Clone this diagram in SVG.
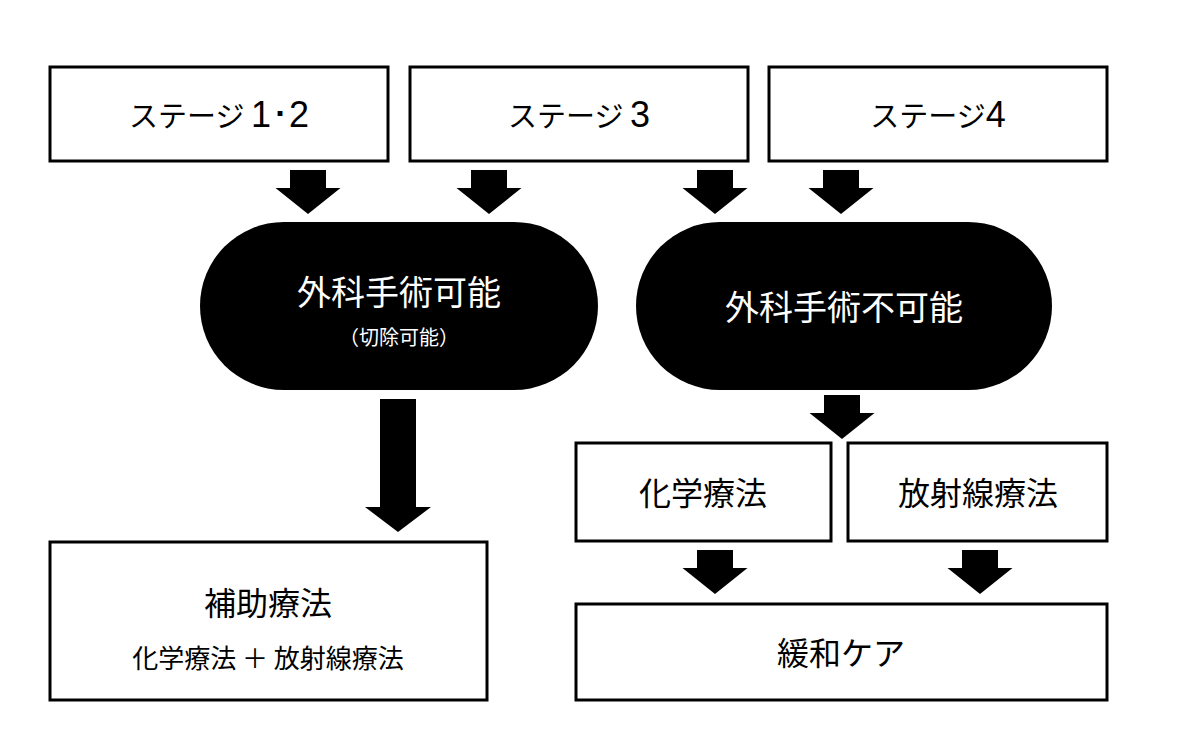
<svg xmlns="http://www.w3.org/2000/svg" width="1200" height="751" viewBox="0 0 1200 751">
<style>
.b{fill:#fff;stroke:#000;stroke-width:3}
.t{font-family:"Noto Sans CJK JP","Noto Sans",sans-serif;text-anchor:middle;fill:#000}
.n{font-family:"Liberation Sans",sans-serif;font-size:36px}
.w{fill:#fff}
</style>
<defs>
<path id="a" d="M-18,0 H18 V18 H32.5 L0,44 L-32.5,18 H-18 Z"/>
</defs>
<rect width="1200" height="751" fill="#fff"/>
<g id="s12"><rect class="b" x="50" y="67" width="338" height="94"/><text class="t" x="219" y="127" font-size="29">ステージ <tspan class="n">1･2</tspan></text></g>
<g id="s3"><rect class="b" x="410" y="67" width="338" height="94"/><text class="t" x="579" y="127" font-size="29">ステージ <tspan class="n">3</tspan></text></g>
<g id="s4"><rect class="b" x="769" y="67" width="338" height="94"/><text class="t" x="938" y="127" font-size="29">ステージ<tspan class="n">4</tspan></text></g>
<g id="ok"><rect x="200" y="222" width="398" height="168" rx="84" fill="#000"/><text class="t w" x="399" y="305" font-size="34">外科手術可能</text><text class="t w" x="399" y="345" font-size="20">（切除可能）</text></g>
<g id="ng"><rect x="636" y="222" width="416" height="168" rx="84" fill="#000"/><text class="t w" x="844" y="320" font-size="34">外科手術不可能</text></g>
<g id="chemo"><rect class="b" x="576" y="443" width="255" height="98"/><text class="t" x="703" y="505" font-size="32">化学療法</text></g>
<g id="rad"><rect class="b" x="848" y="443" width="259" height="98"/><text class="t" x="978" y="505" font-size="32">放射線療法</text></g>
<g id="adj"><rect class="b" x="50" y="542" width="437" height="158"/><text class="t" x="268" y="615" font-size="32">補助療法</text><text class="t" x="268" y="668" font-size="26">化学療法 ＋ 放射線療法</text></g>
<g id="care"><rect class="b" x="576" y="604" width="531" height="96"/><text class="t" x="841" y="665" font-size="32">緩和ケア</text></g>
<g id="connectors">
<use href="#a" x="308" y="170"/>
<use href="#a" x="489" y="170"/>
<use href="#a" x="715" y="170"/>
<use href="#a" x="841" y="170"/>
<use href="#a" x="842" y="395"/>
<use href="#a" x="715" y="550"/>
<use href="#a" x="980" y="550"/>
<path d="M380,399 H416 V507 H431 L398,532 L365,507 H380 Z"/>
</g>
</svg>
